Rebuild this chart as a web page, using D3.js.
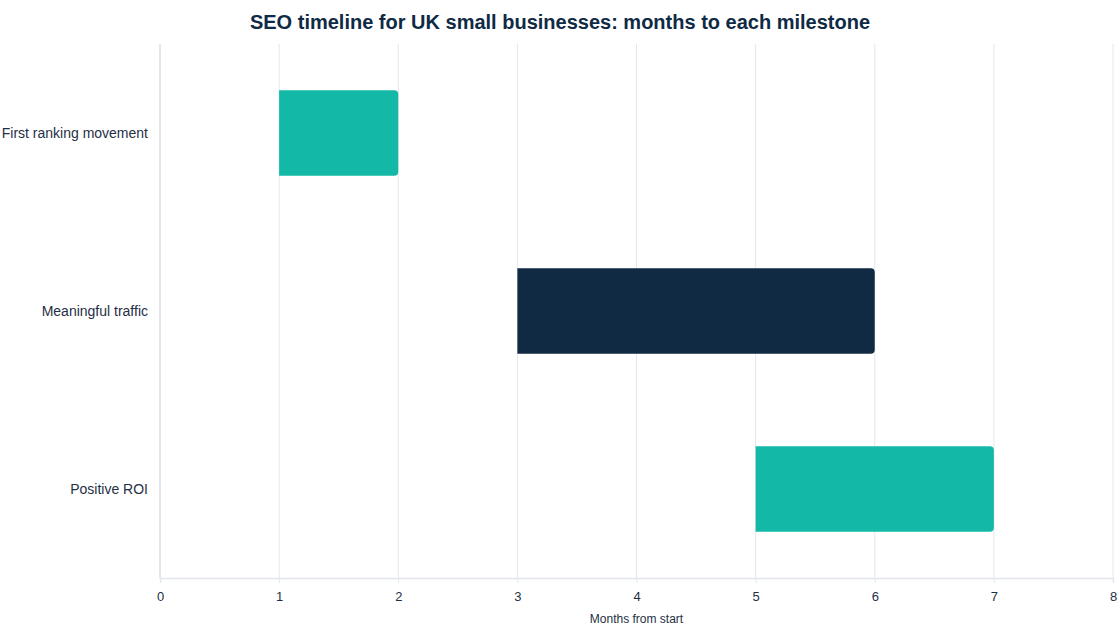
<!DOCTYPE html>
<html>
<head>
<meta charset="utf-8">
<script src="https://cdn.jsdelivr.net/npm/d3@7"></script>
<style>
  body { margin: 0; background: #fff; font-family: "Liberation Sans", Arial, sans-serif; }
</style>
</head>
<body>
<div id="chart"></div>
<script>
// milestone data (months from start)
var milestones = ["First ranking movement", "Meaningful traffic", "Positive ROI"];
var startMonths = [1, 3, 5];
var endMonths = [2, 6, 7];
var barColors = ["#14b8a6", "#102a43", "#14b8a6"];
var xTicks = [0, 1, 2, 3, 4, 5, 6, 7, 8];

var W = 1120, H = 630;
var margin = {top: 44, right: 7, bottom: 52, left: 160};
var width = W - margin.left - margin.right,
    height = H - margin.top - margin.bottom;

var svg = d3.select("#chart")
  .append("svg")
    .attr("width", W)
    .attr("height", H);

svg.append("text")
  .attr("x", W / 2)
  .attr("y", 29)
  .attr("text-anchor", "middle")
  .style("font-size", "20px")
  .style("font-weight", "bold")
  .style("fill", "#0f2a44")
  .text("SEO timeline for UK small businesses: months to each milestone");

var g = svg.append("g")
  .attr("transform", "translate(" + margin.left + "," + margin.top + ")");

var x = d3.scaleLinear().domain([0, 8]).range([0, width]);
var y = d3.scaleBand().domain(milestones).range([0, height]).paddingInner(0.52).paddingOuter(0.26);

// vertical grid
g.selectAll("line.grid")
  .data(xTicks.slice(1))
  .enter()
  .append("line")
    .attr("class", "grid")
    .attr("x1", function(d) { return x(d); })
    .attr("x2", function(d) { return x(d); })
    .attr("y1", 0)
    .attr("y2", height)
    .style("stroke", "#e3e6ee")
    .style("stroke-width", 1);

// bars with rounded right corners
var r = 4;
var data = milestones.map(function(m, i) {
  return {name: m, start: startMonths[i], end: endMonths[i], color: barColors[i]};
});

g.selectAll("path.bar")
  .data(data)
  .enter()
  .append("path")
    .attr("class", "bar")
    .attr("d", function(d) {
      var x0 = x(d.start), x1 = x(d.end), y0 = y(d.name), h = y.bandwidth();
      return "M" + x0 + "," + y0 +
        "H" + (x1 - r) +
        "Q" + x1 + "," + y0 + " " + x1 + "," + (y0 + r) +
        "V" + (y0 + h - r) +
        "Q" + x1 + "," + (y0 + h) + " " + (x1 - r) + "," + (y0 + h) +
        "H" + x0 + "Z";
    })
    .style("fill", function(d) { return d.color; });

// x axis
var xAxis = g.append("g")
  .attr("transform", "translate(0," + height + ")")
  .call(d3.axisBottom(x).tickValues(xTicks).tickSize(5).tickPadding(9));
xAxis.select(".domain").style("stroke", "#e3e6ee").style("stroke-width", 1.5);
xAxis.selectAll(".tick line").style("stroke", "#e3e6ee");
xAxis.selectAll("text")
  .style("font-family", "Liberation Sans, Arial, sans-serif")
  .style("font-size", "13px")
  .style("fill", "#1f2f45");

// y axis line + labels
g.append("line")
  .attr("x1", 0).attr("x2", 0)
  .attr("y1", 0).attr("y2", height)
  .style("stroke", "#c9cfdc")
  .style("stroke-width", 1);

g.selectAll("text.ylab")
  .data(milestones)
  .enter()
  .append("text")
    .attr("class", "ylab")
    .attr("x", -12)
    .attr("y", function(d) { return y(d) + y.bandwidth() / 2; })
    .attr("text-anchor", "end")
    .attr("dominant-baseline", "central")
    .style("font-size", "14px")
    .style("fill", "#1f2f45")
    .text(function(d) { return d; });

svg.append("text")
  .attr("x", margin.left + width / 2)
  .attr("y", 623)
  .attr("text-anchor", "middle")
  .style("font-size", "12px")
  .style("fill", "#1f2f45")
  .text("Months from start");
</script>
</body>
</html>
